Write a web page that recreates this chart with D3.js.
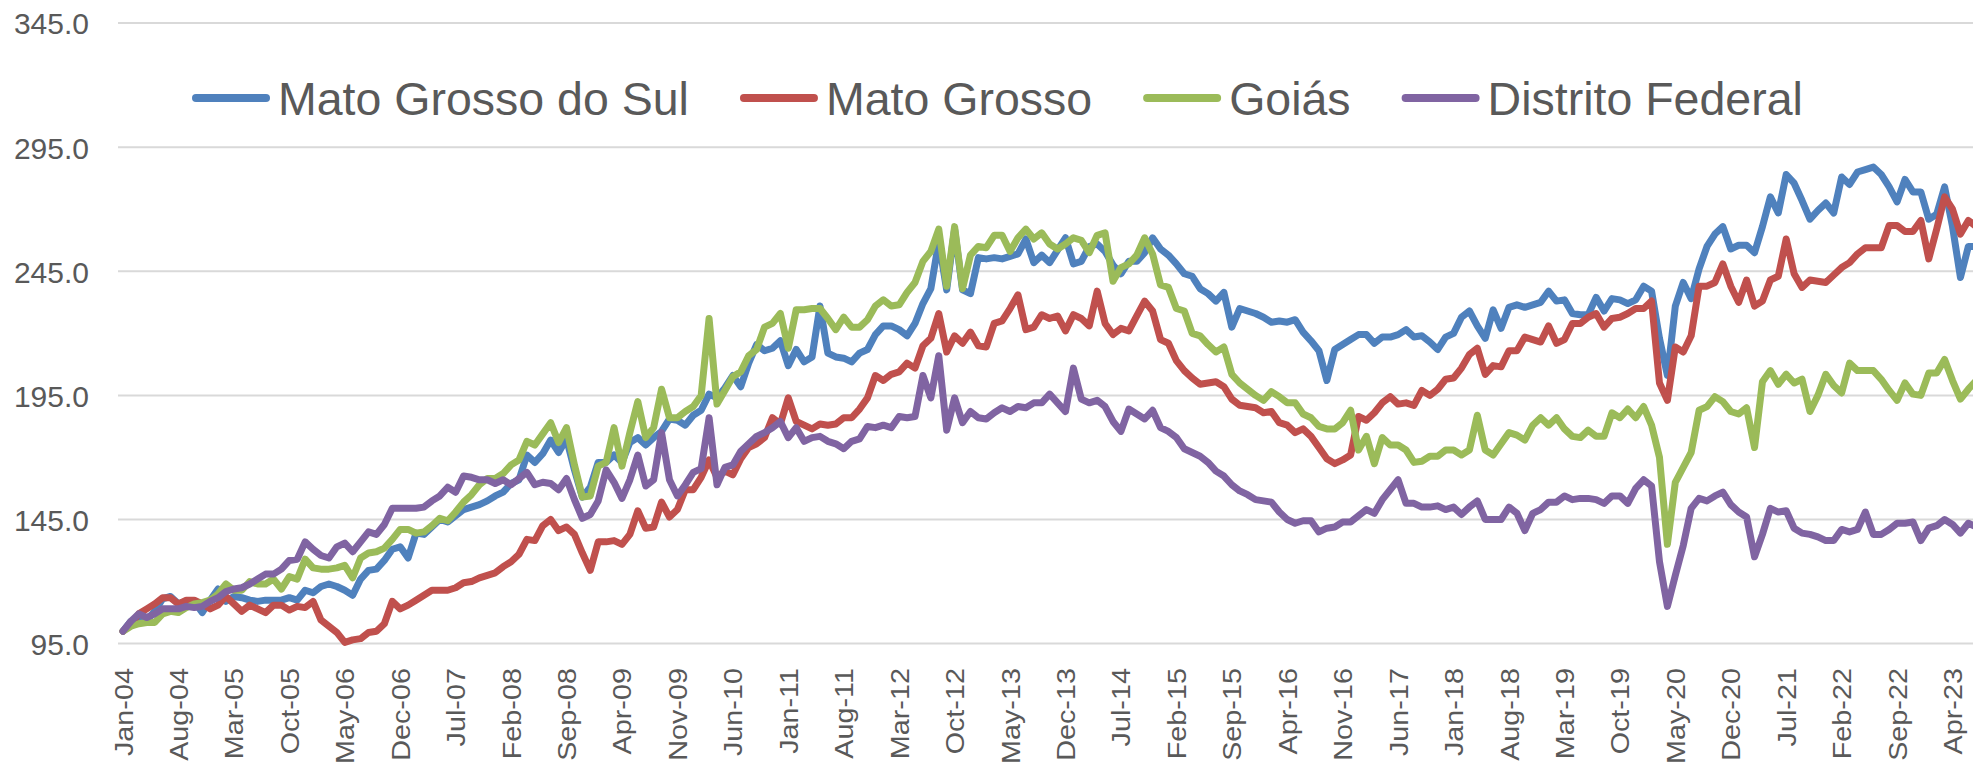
<!DOCTYPE html>
<html><head><meta charset="utf-8">
<script src="https://cdn.jsdelivr.net/npm/d3@7"></script>
<style>html,body{margin:0;padding:0;background:#fff;overflow:hidden}</style>
</head><body>
<svg id="chart" width="1973" height="769"></svg>
<script>
const seriesNames = ["Mato Grosso do Sul", "Mato Grosso", "Goiás", "Distrito Federal"];
const seriesColors = ["#4F81BD", "#C0504D", "#9BBB59", "#8064A2"];

const matoGrossoDoSul = [
100,104,105,104.5,108,113,114,111,112,112,
107.5,112.5,117,112,114,113.5,112.5,112,112.5,112.5,
112.5,113.5,112.5,116.5,115.5,118,119,118,116.5,114.5,
121,124.5,125,128.5,133,134,129.5,139.5,139,142,
145,144,146.5,149,150,151,152.5,154.5,156,159.5,
161,171,168,171.5,177,172,177.5,165,154,158,
168,168,171,168,176,178,175,178,180.5,185.5,
185,183,187,189,195.5,194,198,203,198.5,208,
215.5,213,214,217,207,213.5,208.5,210.5,231,212,
210.5,210,208.5,212,213.5,219.5,223,223,221.5,219,
224,232,238,257,237.5,262,237.5,236,250.5,250,
250.5,250,251,252,258,248.5,251.5,248.5,253.5,258.5,
248,249,255,256,253,247.5,244,249,249,252.5,
258.5,254,251.5,248,244,243,238,236,233,236.5,
222.5,230,229,228,226.5,224.5,225,224.5,225.5,220.5,
217,213,201,213.5,215.5,217.5,219.5,219.5,216,218.5,
218.5,219.5,221.5,218.5,219,216.5,213.5,218.5,220,226.5,
229,223,218,229.5,222,230.5,231.5,230.5,231.5,232.5,
237,233,233.5,228,227.5,227.5,234.5,229,234,233.5,
232,233.5,239,237,218,203,231,240.5,234,246,
255,260,263,254,255.5,255.5,252.5,263,275,268.5,
284,280.5,273.5,266,269.5,272.5,268.5,283,280,285,
286,287,284,279,273,282,277,277,266,268,
279,263,242.5,255,255];

const matoGrosso = [
100,103,107,109,111,113.5,113.5,111,112.5,112.5,
111,109,110.5,114,111,108,110.5,109,107.5,110.5,
110.5,108.5,110,109.5,112,104.5,102,99.5,95.5,96.5,
97,99.5,100,103,112,109,110.5,112.5,114.5,116.5,
116.5,116.5,117.5,119.5,120,121.5,122.5,123.5,126,128,
131,137,136.5,142.5,145,140.5,142,139,131.5,124.5,
136,136,136.5,135,139,148.5,141.5,142,152,146,
149,157,157,162,169,162,164.5,163,169.5,174,
175.5,178,186,183.5,194,184.5,183,181.5,183.5,183,
183.5,186,186,189.5,194,203,201,203.5,204.5,208,
206,215,218,228,212.5,219,216,220.5,215,214.5,
224,225,230,235.5,221.5,222.5,227.5,226,227,221,
227.5,226,223,237,224,219.5,222,221,227,233,
229,217.5,216,209,205,202,199.5,200,200.5,198.5,
193.5,191,190.5,190,188,188.5,184,183,180,181.5,
178.5,174,169.5,167.5,169,171,186.5,185,188,192,
194.5,191.5,192,191,197,195,197.5,201.5,202,206,
211.5,214,203.5,207,206.5,213,213,218.5,217.5,216.5,
223,216,217.5,224,224,226.5,228,222.5,226,226.5,
228,230,230,233,200,193,214.5,212.5,219,239,
239,240.5,248,239,232.5,241.5,231,233,241.5,243,
258,244,238.5,241.5,241,240.5,243.5,246.5,248.5,252,
254.5,254.5,254.5,263.5,263.5,261,261,265.5,250,262,
275,270,260,265.5,263];

const goias = [
100,102,103,103.5,103.5,107,108,107.5,109.5,111,
111.5,112.5,115,119,116.5,116.5,120,119,119,121,
117,122,121,129,125.5,125,125,125.5,126.5,121.5,
129.5,131.5,132,133.5,137,141,141,139.5,140,142.5,
145.5,144.5,148,152,155,159,161.5,161.5,163.5,167,
169,176.5,175,179.5,184,176,182,167,154,154.5,
166.5,168,182,166.5,180,192.5,178,182,197.5,186,
186,188.5,190.5,195,226,191.5,197,202.5,204.5,211,
213.5,222.5,224,228,214,229.5,229.5,230,230,226,
221.5,226.5,222.5,222.5,225.5,231,233.5,231,231.5,236.5,
240.5,249,253,262,239,263,238,251.5,255,254.5,
259.5,259.5,253,258.5,262,258,260.5,256,254,256,
258.5,257.5,252.5,259.5,260.5,241,246.5,248,251.5,258.5,
252,239.5,238.5,230,229,220,219,215.5,212.5,214.5,
203.5,200,197.5,195,193,196.5,194.5,192,192,187.5,
186,182.5,181.5,181.5,184,189,173,178.5,167.5,178,
175,175,173,168,168.5,170.5,170.5,173,173,171,
173,187,173,171,175.5,180,179,177,183,186,
183,186,181.5,178.5,178,181,178.5,178.5,188,186,
189.5,186,190.5,183,170,135,160,166,172,189,
190.5,194.5,192.5,188.5,187.5,190,174,200.5,205,199.5,
203.5,200,201.5,188.5,195,203.5,199,196,208,205,
205,205,201.5,197,193,200,195.5,195,204,204,
209.5,201,193.5,197.5,201];

const distritoFederal = [
100,104,107,105.5,107,109,109,109,110,109.5,
110,112,113.5,116,117,117.5,119,121,123,123,
125,128.5,129,136,133,130.5,129.5,134,135.5,132,
136,140,139,143,149.5,149.5,149.5,149.5,150,152.5,
154.5,158,156,162.5,162,161,161,159.5,161,159,
161.5,164,159,160,159.5,157,161.5,153,145.5,147,
152.5,165,160,153.5,161,171,158.5,161,180,161,
154.5,159,164,165.5,186,159,166,167,172.5,175.5,
178.5,180,182,184.5,178,182,176.5,178,178.5,176.5,
175.5,173.5,176.5,177.5,182.5,182,183,182,186.5,186,
186.5,203,194,211,181,194,184,188.5,186,185.5,
188,190,188.5,190.5,190,192,192,195.5,192,188.5,
206,193.5,192,193,190.5,184.5,180.5,189.5,187.5,185.5,
189,182,180.5,178,173.5,172,170.5,168,164.5,162.5,
159,156.5,155,153,152.5,152,148,145,143.5,144.5,
144.5,140,141.5,142,144,144,146.5,149,147.5,153,
157,161,151.5,151.5,150,150,150.5,149,150,147,
150,152.5,145,145,145,150,147.5,140.5,147.5,149,
152,152,154.5,153,153.5,153.5,153,151.5,154.5,154.5,
151.5,157.5,161,158.5,128,110,122.5,134.5,149.5,153.5,
152.5,154.5,156,151,148,146,130,139,149.5,148,
148.5,141.5,139.5,139,138,136.5,136.5,141,140,141,
148,139,139,141,143.5,143.5,144,136.5,141.5,142.5,
145,143,139.5,143.5,142];

const yTickValues = [95, 145, 195, 245, 295, 345];
const xTickLabels = ["Jan-04","Aug-04","Mar-05","Oct-05","May-06","Dec-06","Jul-07","Feb-08","Sep-08","Apr-09","Nov-09","Jun-10","Jan-11","Aug-11","Mar-12","Oct-12","May-13","Dec-13","Jul-14","Feb-15","Sep-15","Apr-16","Nov-16","Jun-17","Jan-18","Aug-18","Mar-19","Oct-19","May-20","Dec-20","Jul-21","Feb-22","Sep-22","Apr-23"];

const fmtMonth = d3.utcFormat("%b-%y");
const categories = d3.utcMonth.range(new Date(Date.UTC(2004,0,1)), new Date(Date.UTC(2023,7,1))).map(fmtMonth);

const seriesData = [matoGrossoDoSul, matoGrosso, goias, distritoFederal];

const W = 1973, H = 769;
const plotLeft = 118, plotRight = 1973;
const step = 7.92;
const svg = d3.select("#chart");
svg.append("rect").attr("width", W).attr("height", H).attr("fill", "#fff");

const x = d3.scalePoint().domain(categories).range([123, 123 + step * (categories.length - 1)]);
const y = d3.scaleLinear().domain([95, 345]).range([643.6, 23.1]);

const textColor = "#595959";
const font = "'Liberation Sans', Arial, sans-serif";

// gridlines
svg.append("g").selectAll("line").data(yTickValues).join("line")
  .attr("x1", plotLeft).attr("x2", plotRight)
  .attr("y1", d => y(d)).attr("y2", d => y(d))
  .attr("stroke", "#D9D9D9").attr("stroke-width", 2);

// y axis labels
const yAxis = svg.append("g").attr("transform", "translate(89,0)")
  .call(d3.axisLeft(y).tickValues(yTickValues).tickFormat(d3.format(".1f")).tickSize(0).tickPadding(0));
yAxis.select(".domain").remove();
yAxis.selectAll("text").attr("fill", textColor).style("font-family", font).style("font-size", "30px").attr("dy", "0.36em");

// x axis labels (rotated, slightly elongated along the text direction)
const stretch = 1.15;
const xAxis = svg.append("g").attr("transform", "translate(0," + y(95) + ")")
  .call(d3.axisBottom(x).tickValues(xTickLabels).tickSize(0));
xAxis.select(".domain").remove();
xAxis.selectAll("text")
  .attr("transform", "rotate(-90) scale(" + stretch + ",1)")
  .attr("x", -24.5 / stretch).attr("y", 0).attr("dy", "0.36em")
  .style("text-anchor", "end")
  .attr("fill", textColor).style("font-family", font).style("font-size", "25px");

// series lines
const line = d3.line().x((d, i) => x(categories[i])).y(d => y(d));
svg.append("g").selectAll("path").data(seriesData).join("path")
  .attr("d", d => line(d))
  .attr("fill", "none")
  .attr("stroke", (d, k) => seriesColors[k])
  .attr("stroke-width", 7)
  .attr("stroke-linejoin", "round")
  .attr("stroke-linecap", "round");

// legend
const legend = svg.append("g");
let lx = 192;
seriesNames.forEach((name, k) => {
  legend.append("line")
    .attr("x1", lx + 4).attr("x2", lx + 74).attr("y1", 98).attr("y2", 98)
    .attr("stroke", seriesColors[k]).attr("stroke-width", 8).attr("stroke-linecap", "round");
  const t = legend.append("text")
    .attr("x", lx + 86).attr("y", 115)
    .attr("fill", textColor).style("font-family", font).style("font-size", "46.5px")
    .text(name);
  lx = lx + 86 + t.node().getComputedTextLength() + 51;
});
</script>
</body></html>
